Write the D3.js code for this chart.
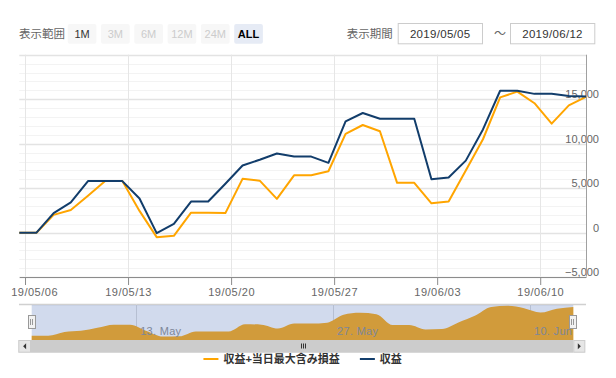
<!DOCTYPE html>
<html>
<head>
<meta charset="utf-8">
<script src="https://cdn.jsdelivr.net/npm/d3@7"></script>
<style>
  body { margin: 0; background: #fff; }
  svg { display: block; font-family: "Liberation Sans", Arial, "Noto Sans CJK JP", sans-serif; }
</style>
</head>
<body>
<div id="chart"></div>
<script>
// ---- data ----
const dates = [
  "2019-05-05", "2019-05-06", "2019-05-07", "2019-05-08", "2019-05-09", "2019-05-10",
  "2019-05-12", "2019-05-13", "2019-05-14", "2019-05-15", "2019-05-16", "2019-05-17",
  "2019-05-19", "2019-05-20", "2019-05-21", "2019-05-22", "2019-05-23", "2019-05-24",
  "2019-05-26", "2019-05-27", "2019-05-28", "2019-05-29", "2019-05-30", "2019-05-31",
  "2019-06-02", "2019-06-03", "2019-06-04", "2019-06-05", "2019-06-06", "2019-06-07",
  "2019-06-09", "2019-06-10", "2019-06-11", "2019-06-12"
];
// 収益+当日最大含み損益
const profitWithOpen = [
  0, 0, 2000, 2550, 4150, 5800,
  5800, 2450, -500, -350, 2250, 2250,
  2200, 6050, 5850, 3800, 6450, 6450,
  6900, 11100, 12100, 11400, 5600, 5600,
  3300, 3500, 7000, 10500, 15200, 15850,
  14550, 12250, 14300, 15250
];
// 収益
const profit = [
  0, 0, 2200, 3400, 5800, 5800,
  5800, 3850, -50, 1000, 3500, 3500,
  5500, 7550, 8200, 8900, 8550, 8550,
  7850, 12500, 13450, 12800, 12800, 12800,
  6000, 6200, 8100, 11600, 15950, 15950,
  15600, 15600, 15350, 15300
];
const seriesNames = ["収益+当日最大含み損益", "収益"];
const seriesColors = ["#ffa500", "#123d6b"];

const weekTicks = ["2019-05-06", "2019-05-13", "2019-05-20", "2019-05-27", "2019-06-03", "2019-06-10"];
const navTicks = ["2019-05-13", "2019-05-27", "2019-06-10"];
const yLabels = [-5000, 0, 5000, 10000, 15000];

const rangeButtons = ["1M", "3M", "6M", "12M", "24M", "ALL"];
const rangeEnabled = [true, false, false, false, false, true];
const periodFrom = "2019/05/05";
const periodTo = "2019/06/12";

// ---- layout ----
const cfg = {
  width: 616, height: 378,
  plot: { left: 19.3, right: 586, top: 54.7, bottom: 276.5 },
  nav: { left: 31.7, right: 573.3, top: 304, bottom: 340 },
  scroll: { left: 18.3, right: 585.3, top: 340, bottom: 352.7 },
};

const svg = d3.select("#chart")
  .append("svg")
  .attr("width", cfg.width)
  .attr("height", cfg.height)
  ;

// points carry a 16:00 stamp; the axis is ordinal, so every point gets the same step
const parseDay = d3.utcParse("%Y-%m-%d");
const times = dates.map(d => +parseDay(d) + 16 * 3600e3);

function ordinalScale(left, right) {
  const step = (right - left) / (times.length - 1);
  return d3.scaleLinear()
    .domain(times)
    .range(times.map((t, i) => left + i * step));
}

const x = ordinalScale(cfg.plot.left, cfg.plot.right);
const y = d3.scaleLinear([-5000, 20000], [277.2, cfg.plot.top]);

// ---- header ----
const header = svg.append("g").attr("class", "header");

header.append("text")
  .attr("x", 19).attr("y", 33.5)
  .attr("dominant-baseline", "central")
  .style("font-size", "11.5px").style("fill", "#666")
  .text("表示範囲");

const btn = header.selectAll("g.btn")
  .data(rangeButtons)
  .join("g")
  .attr("class", "btn")
  .attr("transform", (d, i) => `translate(${67.7 + i * 33.3}, 24)`)
  ;
btn.append("rect")
  .attr("width", 28.7).attr("height", 19.7).attr("rx", 2)
  .style("fill", d => d === "ALL" ? "#e6ebf5" : "#f7f7f7");
btn.append("text")
  .attr("x", 14.35).attr("y", 10)
  .attr("text-anchor", "middle")
  .attr("dominant-baseline", "central")
  .style("font-size", "11px")
  .style("font-weight", d => d === "ALL" ? "bold" : "normal")
  .style("fill", (d, i) => d === "ALL" ? "#000" : (rangeEnabled[i] ? "#333" : "#ccc"))
  .text(d => d);

header.append("text")
  .attr("x", 346.7).attr("y", 33.5)
  .attr("dominant-baseline", "central")
  .style("font-size", "11.5px").style("fill", "#666")
  .text("表示期間");

const boxes = [[397.7, periodFrom], [510, periodTo]];
boxes.forEach(([bx, label]) => {
  header.append("rect")
    .attr("x", bx + 0.5).attr("y", 23.5)
    .attr("width", 84.3).attr("height", 20.3)
    .style("fill", "#fff").style("stroke", "#ccc");
  header.append("text")
    .attr("x", bx + 42.5).attr("y", 34)
    .attr("text-anchor", "middle")
    .attr("dominant-baseline", "central")
    .style("font-size", "11.5px").style("fill", "#333")
    .style("letter-spacing", "0.3px")
    .text(label);
});
header.append("text")
  .attr("x", 500).attr("y", 34)
  .attr("text-anchor", "middle")
  .attr("dominant-baseline", "central")
  .style("font-size", "12px").style("fill", "#666")
  .text("～");

// ---- grid ----
const grid = svg.append("g").attr("class", "gridlines");
const crisp = v => Math.round(v) + 0.5;

grid.selectAll("line.minor")
  .data(d3.range(-5000, 20001, 1000).filter(v => v % 5000 !== 0))
  .join("line")
  .attr("class", "minor")
  .attr("x1", cfg.plot.left).attr("x2", cfg.plot.right)
  .attr("y1", d => crisp(y(d))).attr("y2", d => crisp(y(d)))
  .style("stroke", "#f3f3f3")
  ;
grid.selectAll("line.major")
  .data(d3.range(-5000, 20001, 5000))
  .join("line")
  .attr("class", "major")
  .attr("x1", cfg.plot.left).attr("x2", cfg.plot.right)
  .attr("y1", d => crisp(y(d))).attr("y2", d => crisp(y(d)))
  .style("stroke", "#e3e3e3")
  .style("stroke-width", 1.4)
  ;
grid.selectAll("line.vert")
  .data(weekTicks)
  .join("line")
  .attr("class", "vert")
  .attr("x1", d => crisp(x(parseDay(d)))).attr("x2", d => crisp(x(parseDay(d))))
  .attr("y1", cfg.plot.top).attr("y2", cfg.plot.bottom)
  .style("stroke", "#e6e6e6")
  ;

// ---- axes ----
const xAxis = svg.append("g")
  .attr("class", "xAxis")
  .attr("transform", `translate(0, ${crisp(cfg.plot.bottom) - 0.5})`)
  .call(d3.axisBottom(x)
    .tickValues(weekTicks.map(parseDay))
    .tickFormat(d3.utcFormat("%y/%m/%d"))
    .tickSize(8)
    .tickSizeOuter(0)
    .tickPadding(3))
  ;
xAxis.select(".domain").style("stroke", "#8c8c8c");
xAxis.selectAll(".tick line").style("stroke", "#8c8c8c");
xAxis.selectAll(".tick text")
  .style("font-size", "11px").style("fill", "#666")
  .style("letter-spacing", "0.5px")
  .style("font-family", null)
  ;
// the first label is pushed right so it does not run off the chart
xAxis.select(".tick text")
  .attr("text-anchor", "start")
  .attr("x", 10.7 - x(parseDay(weekTicks[0])));

const yAxis = svg.append("g")
  .attr("class", "yAxis")
  .attr("transform", `translate(599, -5)`)
  .call(d3.axisLeft(y)
    .tickValues(yLabels)
    .tickFormat(d3.format(","))
    .tickSize(0)
    .tickPadding(0))
  ;
yAxis.select(".domain").remove();
yAxis.selectAll(".tick text")
  .style("font-size", "11px").style("fill", "#666")
  .style("font-family", null)
  ;

svg.append("line")
  .attr("x1", crisp(cfg.plot.right)).attr("x2", crisp(cfg.plot.right))
  .attr("y1", cfg.plot.top).attr("y2", cfg.plot.bottom)
  .style("stroke", "#a0a0a0")
  ;

// ---- lines ----
const line = d3.line()
  .x((d, i) => x(times[i]))
  .y(d => y(d))
  .curve(d3.curveLinear);

svg.append("g")
  .attr("class", "chartlines")
  .selectAll("path")
  .data([profitWithOpen, profit])
  .join("path")
  .attr("d", line)
  .style("fill", "none")
  .style("stroke", (d, i) => seriesColors[i])
  .style("stroke-width", 2)
  .style("stroke-linejoin", "round")
  ;

// ---- navigator ----
const xn = ordinalScale(cfg.nav.left, cfg.nav.right);
const yn = d3.scaleLinear([-2300, 16800], [cfg.nav.bottom, cfg.nav.top]);
const nav = svg.append("g").attr("class", "navigator");

nav.append("line")
  .attr("x1", 19).attr("x2", cfg.plot.right)
  .attr("y1", cfg.nav.top + 0.5).attr("y2", cfg.nav.top + 0.5)
  .style("stroke", "#d0d0d0").style("stroke-width", 1.3);

nav.selectAll("line.navgrid")
  .data(navTicks)
  .join("line")
  .attr("class", "navgrid")
  .attr("x1", d => crisp(xn(parseDay(d)))).attr("x2", d => crisp(xn(parseDay(d))))
  .attr("y1", cfg.nav.top).attr("y2", cfg.nav.bottom)
  .style("stroke", "#d8d8d8");

nav.append("path")
  .datum(profitWithOpen)
  .attr("d", d3.area()
    .x((d, i) => xn(times[i]))
    .y0(cfg.nav.bottom)
    .y1(d => yn(d))
    .curve(d3.curveMonotoneX))
  .style("fill", seriesColors[0]);

nav.selectAll("text.navlabel")
  .data(navTicks)
  .join("text")
  .attr("class", "navlabel")
  .attr("x", d => xn(parseDay(d)) + 4.5)
  .attr("y", 335)
  .style("font-size", "11px").style("fill", "#888")
  .style("letter-spacing", "0.3px")
  .text(d => d3.utcFormat("%-d. %b")(parseDay(d)));

nav.append("rect")
  .attr("x", cfg.nav.left).attr("y", cfg.nav.top + 1)
  .attr("width", cfg.nav.right - cfg.nav.left)
  .attr("height", cfg.nav.bottom - cfg.nav.top - 1)
  .style("fill", "rgba(102,133,194,0.3)");

[cfg.nav.left, cfg.nav.right].forEach(hx => {
  nav.append("rect")
    .attr("x", Math.round(hx) - 3.5).attr("y", 315.5)
    .attr("width", 7).attr("height", 13)
    .style("fill", "#f2f2f2").style("stroke", "#999");
  [-1, 1].forEach(o => nav.append("line")
    .attr("x1", Math.round(hx) + o - 0.5).attr("x2", Math.round(hx) + o - 0.5)
    .attr("y1", 319).attr("y2", 325)
    .style("stroke", "#999"));
});

// ---- scrollbar ----
const sc = cfg.scroll;
const scroll = svg.append("g").attr("class", "scrollbar");
scroll.append("rect")
  .attr("x", sc.left).attr("y", sc.top)
  .attr("width", sc.right - sc.left).attr("height", sc.bottom - sc.top)
  .style("fill", "#f2f2f2");
scroll.append("rect")
  .attr("x", cfg.nav.left - 0.7).attr("y", sc.top)
  .attr("width", cfg.nav.right - cfg.nav.left + 0.7).attr("height", sc.bottom - sc.top)
  .style("fill", "#cccccc");
[[sc.left, 1], [cfg.nav.right, -1]].forEach(([bx, dir]) => {
  const w = dir > 0 ? cfg.nav.left - 0.7 - sc.left : sc.right - cfg.nav.right;
  scroll.append("rect")
    .attr("x", bx + 0.5).attr("y", sc.top + 0.5)
    .attr("width", w - 1).attr("height", sc.bottom - sc.top - 1)
    .style("fill", "#e6e6e6").style("stroke", "#cccccc");
  const cx = bx + w / 2, cy = (sc.top + sc.bottom) / 2;
  scroll.append("path")
    .attr("d", dir > 0
      ? `M${cx + 1.5},${cy - 3} L${cx - 1.5},${cy} L${cx + 1.5},${cy + 3} Z`
      : `M${cx - 1.5},${cy - 3} L${cx + 1.5},${cy} L${cx - 1.5},${cy + 3} Z`)
    .style("fill", "#333");
});
const gx = (cfg.nav.left + cfg.nav.right) / 2;
[-2, 0, 2].forEach(o => scroll.append("line")
  .attr("x1", Math.round(gx) + o + 0.5).attr("x2", Math.round(gx) + o + 0.5)
  .attr("y1", 343.5).attr("y2", 348.5)
  .style("stroke", "#333"));

// ---- legend ----
const legend = svg.append("g").attr("class", "legend");
const items = legend.selectAll("g")
  .data(seriesNames)
  .join("g");
items.append("line")
  .attr("x1", 0).attr("x2", 15)
  .attr("y1", 359).attr("y2", 359)
  .style("stroke", (d, i) => seriesColors[i])
  .style("stroke-width", 2);
items.append("text")
  .attr("x", 20).attr("y", 359)
  .attr("dominant-baseline", "central")
  .style("font-size", "11px").style("font-weight", "bold").style("fill", "#333")
  .text(d => d);

let widths = [];
items.each(function () { widths.push(20 + d3.select(this).select("text").node().getComputedTextLength()); });
const gap = 20;
const total = d3.sum(widths) + gap * (widths.length - 1);
let lx = (cfg.plot.left + cfg.plot.right) / 2 - total / 2;
items.attr("transform", (d, i) => {
  const t = `translate(${lx}, 0)`;
  lx += widths[i] + gap;
  return t;
});
</script>
</body>
</html>
